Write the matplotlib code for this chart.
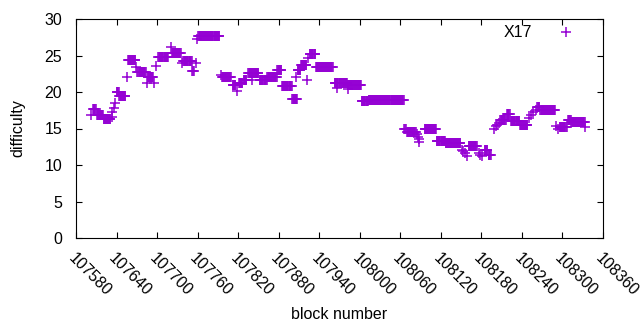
import numpy as np
import matplotlib
matplotlib.use('Agg')
import matplotlib.pyplot as plt

# runs of constant difficulty: first block, last block, value
run_start = [107602, 107605, 107611, 107621, 107633, 107634, 107636, 107638, 107640, 107644,
             107655, 107657, 107669, 107671, 107685, 107686, 107696, 107699, 107702, 107720,
             107722, 107737, 107739, 107752, 107757, 107759, 107761, 107795, 107796, 107812,
             107818, 107821, 107828, 107835, 107841, 107852, 107863, 107878, 107885, 107900,
             107906, 107908, 107913, 107922, 107923, 107926, 107935, 107963, 107966, 107982,
             107983, 108003, 108013, 108066, 108070, 108085, 108086, 108087, 108088, 108096,
             108114, 108127, 108151, 108153, 108156, 108159, 108161, 108176, 108178, 108181,
             108185, 108191, 108198, 108201, 108203, 108206, 108208, 108218, 108224, 108237,
             108251, 108254, 108257, 108261, 108263, 108267, 108291, 108293, 108296, 108308,
             108313, 108334]
run_end = [107602, 107609, 107620, 107631, 107633, 107634, 107636, 107638, 107643, 107653,
           107655, 107668, 107669, 107683, 107685, 107694, 107696, 107699, 107716, 107720,
           107735, 107737, 107751, 107754, 107757, 107759, 107792, 107795, 107809, 107816,
           107818, 107826, 107832, 107850, 107841, 107862, 107877, 107884, 107899, 107907,
           107906, 107912, 107921, 107922, 107923, 107934, 107960, 107981, 107966, 108002,
           107983, 108012, 108065, 108068, 108083, 108085, 108086, 108087, 108088, 108113,
           108126, 108149, 108151, 108153, 108156, 108159, 108173, 108176, 108178, 108181,
           108189, 108194, 108198, 108201, 108203, 108206, 108216, 108222, 108236, 108248,
           108251, 108254, 108257, 108261, 108266, 108289, 108291, 108293, 108306, 108312,
           108333, 108334]
run_diff = [16.8, 17.7, 16.9, 16.3, 16.6, 17.3, 17.8, 18.5, 20.0, 19.5,
            22.1, 24.4, 23.4, 22.8, 21.2, 22.1, 21.2, 23.5, 24.8, 26.2,
            25.4, 24.0, 24.2, 22.9, 24.0, 27.2, 27.7, 22.3, 22.0, 20.9,
            20.1, 21.3, 21.6, 22.6, 21.7, 21.6, 22.1, 23.0, 20.8, 19.1,
            22.0, 23.0, 23.7, 21.7, 24.6, 25.2, 23.4, 21.2, 20.5, 21.0,
            20.4, 18.7, 18.9, 14.9, 14.5, 14.2, 13.9, 13.6, 13.2, 15.0,
            13.3, 13.0, 12.1, 11.9, 11.6, 11.2, 12.6, 11.7, 11.4, 11.2,
            12.1, 11.4, 15.0, 15.3, 15.5, 15.8, 16.2, 17.0, 16.0, 15.5,
            16.4, 16.8, 17.2, 17.6, 18.0, 17.5, 15.3, 15.0, 15.2, 16.1,
            15.9, 15.2]

xticks = list(range(107580, 108361, 60))
yticks = [0, 5, 10, 15, 20, 25, 30]

# one point per block
blocks = []
diffs = []
for s, e, d in zip(run_start, run_end, run_diff):
    for b in range(s, e + 1):
        blocks.append(b)
        diffs.append(d)

plt.rcParams['font.family'] = ['Liberation Sans', 'DejaVu Sans']
fig = plt.figure(figsize=(6.4, 3.3), dpi=100)
ax = fig.add_axes([76/640, 1-238/330, 527/640, 219/330])

ax.plot(blocks, diffs, linestyle='none', marker='+', color='#9400D3',
        markersize=6.8, markeredgewidth=1.1, label='X17')

ax.set_xlim(107580, 108360)
ax.set_ylim(0, 30)
ax.set_xticks(xticks)
ax.set_yticks(yticks)
ax.set_xticklabels([str(t) for t in xticks], rotation=-45, ha='left', va='top',
                   rotation_mode='anchor', fontsize=11.5)
ax.tick_params(axis='y', labelsize=11.5, pad=10)
ax.tick_params(axis='x', pad=9)
ax.tick_params(direction='in', top=True, right=True, length=4.5, width=0.8)
for sp in ax.spines.values():
    sp.set_linewidth(0.8)

ax.set_xlabel('block number', fontsize=11.5, labelpad=6)
ax.set_ylabel('difficulty', fontsize=11.5, labelpad=14)

ax.legend(loc='upper right', bbox_to_anchor=(0.97, 1.03), frameon=False, markerfirst=False,
          fontsize=11.5, handlelength=1.0, handletextpad=1.65, borderpad=0.3)

fig.savefig('out.png', dpi=100)
